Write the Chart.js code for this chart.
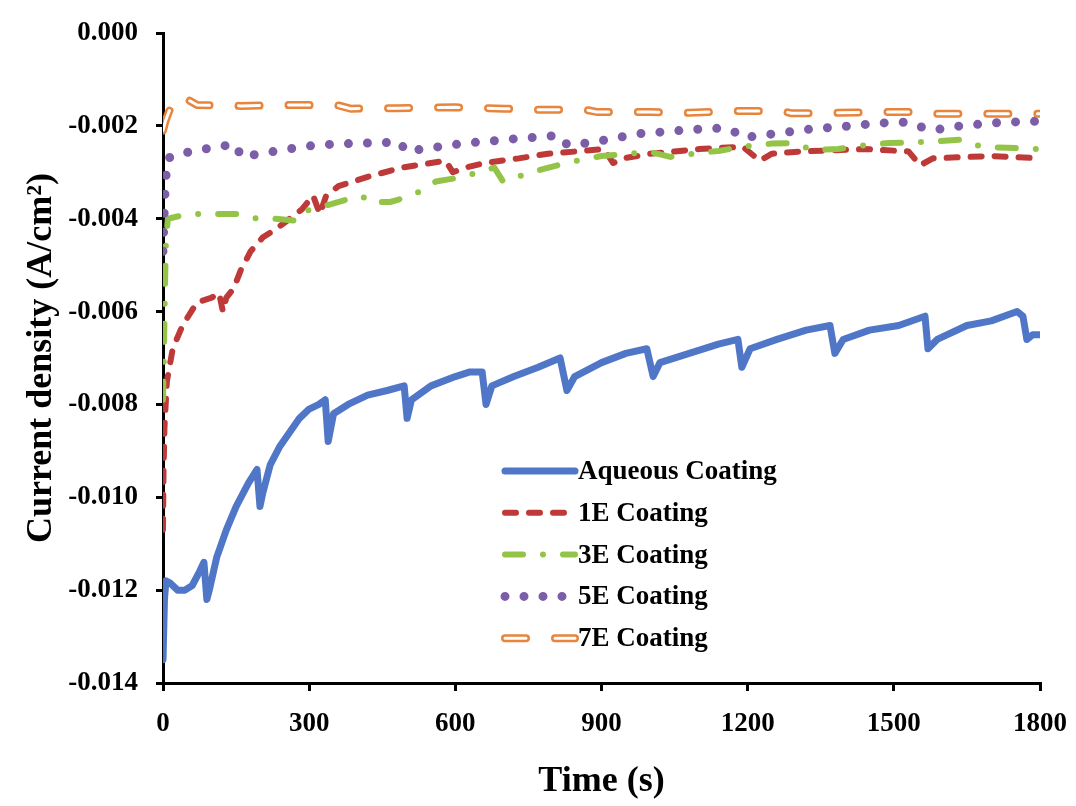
<!DOCTYPE html>
<html>
<head>
<meta charset="utf-8">
<script src="https://cdn.jsdelivr.net/npm/chart.js@4"></script>
<style>
  html, body { margin: 0; padding: 0; background: #fff; }
  #wrap { width: 1076px; height: 806px; }
</style>
</head>
<body>
<div id="wrap"><canvas id="chart" width="1076" height="806"></canvas></div>
<script>
// values (time in s, current density in A/cm2)
let aqTime = [0, 3, 6, 15, 30, 45, 60, 75, 84, 90, 95, 110, 130, 150, 175, 193, 199, 205, 220, 240, 260, 280, 300, 320, 333, 339, 350, 380, 420, 460, 495, 501, 510, 550, 600, 630, 655, 663, 675, 720, 770, 815, 829, 845, 900, 950, 993, 1006, 1020, 1080, 1140, 1180, 1188, 1205, 1260, 1320, 1369, 1379, 1396, 1450, 1510, 1564, 1570, 1589, 1650, 1700, 1753, 1765, 1773, 1785, 1800];
let aqValue = [-0.0135, -0.0122, -0.0118, -0.01185, -0.0120, -0.0120, -0.0119, -0.0116, -0.0114, -0.0122, -0.0120, -0.0113, -0.0107, -0.0102, -0.0097, -0.0094, -0.0102, -0.0099, -0.0093, -0.0089, -0.0086, -0.0083, -0.0081, -0.0080, -0.0079, -0.0088, -0.0082, -0.0080, -0.0078, -0.0077, -0.0076, -0.0083, -0.0079, -0.0076, -0.0074, -0.0073, -0.0073, -0.0080, -0.0076, -0.0074, -0.0072, -0.0070, -0.0077, -0.0074, -0.0071, -0.0069, -0.0068, -0.0074, -0.0071, -0.0069, -0.0067, -0.0066, -0.0072, -0.0068, -0.0066, -0.0064, -0.0063, -0.0069, -0.0066, -0.0064, -0.0063, -0.0061, -0.0068, -0.0066, -0.0063, -0.0062, -0.0060, -0.0061, -0.0066, -0.0065, -0.0065];

let e1Time = [0, 1, 3, 8, 20, 40, 70, 100, 115, 123, 130, 145, 160, 180, 205, 235, 260, 285, 308, 322, 335, 360, 420, 490, 550, 580, 595, 620, 660, 730, 790, 850, 905, 924, 945, 1000, 1100, 1190, 1225, 1250, 1310, 1440, 1530, 1554, 1580, 1700, 1800];
let e1Value = [-0.0107, -0.0095, -0.0085, -0.0075, -0.0068, -0.0063, -0.0058, -0.0057, -0.0056, -0.0060, -0.0057, -0.0055, -0.0051, -0.0047, -0.0044, -0.0042, -0.0040, -0.0038, -0.0035, -0.0039, -0.0035, -0.0033, -0.0031, -0.0029, -0.0028, -0.00275, -0.0030, -0.0029, -0.0028, -0.0027, -0.0026, -0.00255, -0.0025, -0.0028, -0.0027, -0.0026, -0.0025, -0.00245, -0.00275, -0.0026, -0.00255, -0.0025, -0.00255, -0.00285, -0.0027, -0.00265, -0.0027];

let e3Time = [0, 2, 4, 6, 10, 50, 110, 160, 193, 230, 280, 300, 340, 390, 410, 420, 466, 480, 520, 560, 615, 680, 698, 755, 810, 850, 900, 1000, 1041, 1100, 1140, 1190, 1250, 1295, 1334, 1385, 1430, 1490, 1580, 1636, 1680, 1800];
let e3Value = [-0.0079, -0.0068, -0.0055, -0.0045, -0.0040, -0.0039, -0.0039, -0.0039, -0.0040, -0.0040, -0.00405, -0.0038, -0.0037, -0.00355, -0.00352, -0.00364, -0.00364, -0.0036, -0.00345, -0.0032, -0.0031, -0.0029, -0.0032, -0.0030, -0.00285, -0.00275, -0.00265, -0.00256, -0.00267, -0.00258, -0.00254, -0.00245, -0.00238, -0.00237, -0.00252, -0.0025, -0.00243, -0.00237, -0.00234, -0.0023, -0.00245, -0.0025];

let e5Time = [0, 2, 5, 10, 30, 70, 107, 150, 160, 205, 245, 285, 320, 363, 404, 441, 485, 500, 542, 583, 620, 661, 702, 739, 780, 811, 830, 870, 910, 950, 990, 1030, 1070, 1133, 1168, 1190, 1230, 1270, 1310, 1350, 1390, 1430, 1470, 1527, 1554, 1584, 1620, 1660, 1700, 1735, 1800];
let e5Value = [-0.0047, -0.0040, -0.0032, -0.0027, -0.0026, -0.00254, -0.00245, -0.0024, -0.00267, -0.00259, -0.00252, -0.00245, -0.00241, -0.00239, -0.00237, -0.00237, -0.00234, -0.00256, -0.00248, -0.00243, -0.00237, -0.00234, -0.0023, -0.00226, -0.00224, -0.0022, -0.00241, -0.00237, -0.0023, -0.00222, -0.00215, -0.00213, -0.00209, -0.00205, -0.00209, -0.00226, -0.0022, -0.00215, -0.00209, -0.00205, -0.00202, -0.00198, -0.00194, -0.00192, -0.00202, -0.00209, -0.00202, -0.00198, -0.00194, -0.00192, -0.0019];

let e7Time = [0, 5, 12, 25, 45, 70, 160, 270, 360, 385, 480, 600, 700, 760, 870, 890, 1000, 1080, 1180, 1270, 1290, 1380, 1480, 1560, 1580, 1800];
let e7Value = [-0.0021, -0.0019, -0.0017, -0.0014, -0.0014, -0.00155, -0.00157, -0.00155, -0.00156, -0.00163, -0.00162, -0.0016, -0.00163, -0.00165, -0.00166, -0.0017, -0.0017, -0.00172, -0.00168, -0.00168, -0.00173, -0.00172, -0.0017, -0.0017, -0.00174, -0.00174];

let seriesNames = ["Aqueous Coating", "1E Coating", "3E Coating", "5E Coating", "7E Coating"];
let yTicks = {min: -0.014, max: 0, step: 0.002};
let xTicks = {min: 0, max: 1800, step: 300};

const serif = "'Liberation Serif', 'Times New Roman', serif";

function toPoints(times, values) {
  let pts = [];
  for (let i = 0; i < times.length; i++) {
    pts.push({x: times[i], y: values[i]});
  }
  return pts;
}

function lineSet(label, pts, color, width, dash, order) {
  return {
    label: label,
    data: pts,
    borderColor: color,
    borderWidth: width,
    borderDash: dash,
    borderCapStyle: 'round',
    borderJoinStyle: 'round',
    pointRadius: 0,
    tension: 0,
    fill: false,
    order: order
  };
}

let datasets = [
  lineSet(seriesNames[0], toPoints(aqTime, aqValue), '#5077C7', 7, [], 5),
  lineSet(seriesNames[1], toPoints(e1Time, e1Value), '#BE3A39', 6, [11, 13], 4),
  lineSet(seriesNames[2], toPoints(e3Time, e3Value), '#93C447', 6, [18, 20, 0, 20], 3),
  lineSet(seriesNames[3], toPoints(e5Time, e5Value), '#7B5EA7', 9, [0, 19], 2),
  lineSet(seriesNames[4], toPoints(e7Time, e7Value), '#E8843C', 8, [21, 29], 1),
  lineSet(null, toPoints(e7Time, e7Value), '#ffffff', 3, [21, 29], 0)
];
datasets[4].hollow = true;
datasets[5].hideInLegend = true;

// legend drawn inside the plot, like the original
const insideLegend = {
  id: 'insideLegend',
  afterDraw(chart) {
    let ctx = chart.ctx;
    let area = chart.chartArea;
    let x0 = area.left + 342;
    let y0 = area.top + 438;
    let len = 70;
    let row = 0;
    ctx.save();
    for (let ds of chart.data.datasets) {
      if (ds.hideInLegend) continue;
      let y = y0 + row * 41.8;
      ctx.lineCap = 'round';
      ctx.setLineDash(ds.borderDash);
      ctx.strokeStyle = ds.borderColor;
      ctx.lineWidth = ds.borderWidth;
      ctx.beginPath();
      ctx.moveTo(x0, y);
      ctx.lineTo(x0 + len, y);
      ctx.stroke();
      if (ds.hollow) {
        ctx.strokeStyle = '#ffffff';
        ctx.lineWidth = 3;
        ctx.beginPath();
        ctx.moveTo(x0, y);
        ctx.lineTo(x0 + len, y);
        ctx.stroke();
      }
      ctx.setLineDash([]);
      ctx.fillStyle = '#000';
      ctx.font = "bold 27px " + serif;
      ctx.textBaseline = 'middle';
      ctx.textAlign = 'left';
      ctx.fillText(ds.label, x0 + len + 3, y + 1);
      row++;
    }
    ctx.restore();
  }
};

const whiteBg = {
  id: 'whiteBg',
  beforeDraw(chart) {
    let ctx = chart.ctx;
    ctx.save();
    ctx.fillStyle = '#fff';
    ctx.fillRect(0, 0, chart.width, chart.height);
    ctx.restore();
  }
};

let ctx = document.getElementById('chart').getContext('2d');
let chart = new Chart(ctx, {
  type: 'line',
  data: { datasets: datasets },
  options: {
    responsive: false,
    animation: false,
    layout: { padding: { top: 33, right: 36, left: 0, bottom: 0 } },
    plugins: {
      legend: { display: false },
      tooltip: { enabled: false }
    },
    scales: {
      x: {
        type: 'linear',
        min: xTicks.min,
        max: xTicks.max,
        afterFit: function (s) { s.height = 123; s.paddingLeft = 0; s.paddingRight = 0; },
        ticks: {
          stepSize: xTicks.step,
          color: '#000',
          padding: 17,
          maxRotation: 0,
          font: { family: serif, size: 27, weight: 'bold' },
          callback: function (v) { return String(v); }
        },
        grid: { drawOnChartArea: false, drawTicks: true, tickLength: 8, color: '#000', lineWidth: 3 },
        border: { color: '#000', width: 3 },
        title: {
          display: true,
          text: 'Time (s)',
          color: '#000',
          padding: { top: 0, bottom: 3 },
          font: { family: serif, size: 36, weight: 'bold' }
        }
      },
      y: {
        type: 'linear',
        min: yTicks.min,
        max: yTicks.max,
        afterFit: function (s) { s.width = 163; s.paddingTop = 0; s.paddingBottom = 0; },
        ticks: {
          stepSize: yTicks.step,
          color: '#000',
          padding: 18,
          font: { family: serif, size: 27, weight: 'bold' },
          callback: function (v) { return (Math.abs(v) < 1e-9 ? 0 : v).toFixed(3); }
        },
        grid: { drawOnChartArea: false, drawTicks: true, tickLength: 7, color: '#000', lineWidth: 3 },
        border: { color: '#000', width: 3 },
        title: {
          display: true,
          text: 'Current density (A/cm²)',
          color: '#000',
          padding: { top: 20, bottom: 0 },
          font: { family: serif, size: 36, weight: 'bold' }
        }
      }
    }
  },
  plugins: [whiteBg, insideLegend]
});
</script>
</body>
</html>
